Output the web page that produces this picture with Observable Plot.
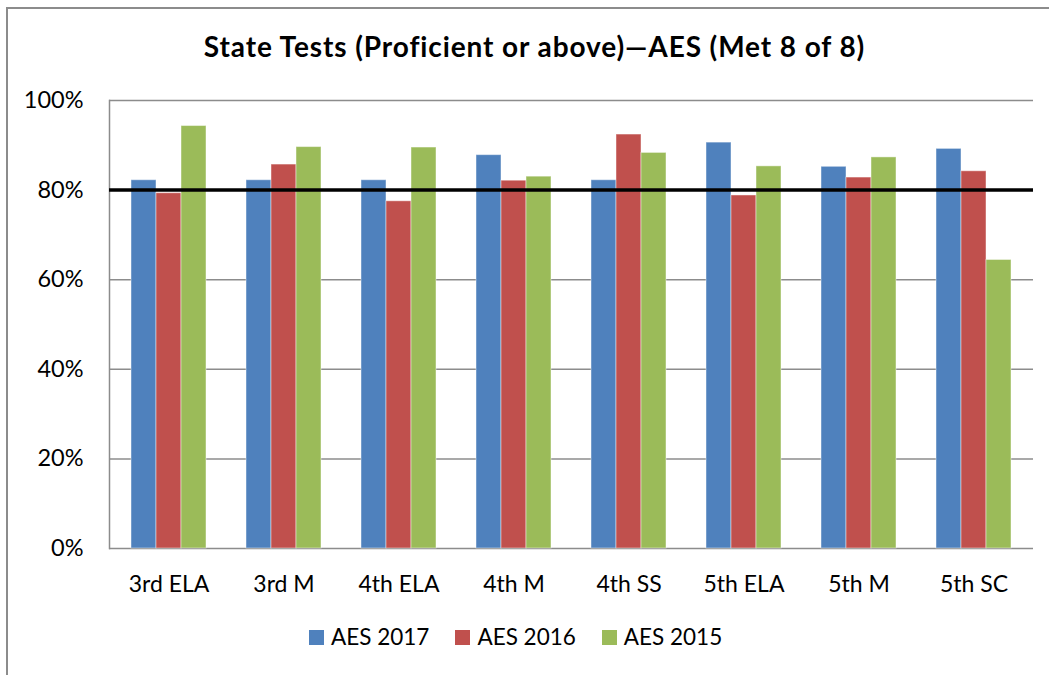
<!DOCTYPE html>
<html>
<head>
<meta charset="utf-8">
<script src="https://cdn.jsdelivr.net/npm/d3@7"></script>
<script src="https://cdn.jsdelivr.net/npm/@observablehq/plot@0.6"></script>
<style>
  html, body { margin: 0; padding: 0; background: #fff; width: 1049px; height: 675px; overflow: hidden; font-family: Lato, "Noto Sans", sans-serif; }
  #border { position: absolute; left: 6px; top: 7px; width: 1100px; height: 720px; border: 2px solid #8c8c8c; box-sizing: border-box; }
  #title { position: absolute; left: 0; width: 1069px; top: 29px; text-align: center; font-size: 28px; line-height: 34px; letter-spacing: 0.9px; font-weight: bold; color: #000; white-space: nowrap; }
  .layer { position: absolute; left: 0; top: 80px; }
  #legend { position: absolute; left: 309px; top: 624px; font-size: 22.5px; line-height: 26px; white-space: nowrap; color: #000; }
  .item { display: inline-block; margin-right: 26px; }
  .sw { display: inline-block; width: 15px; height: 15px; margin-right: 7px; vertical-align: baseline; }
</style>
</head>
<body>
<div id="border"></div>
<div id="title">State Tests (Proficient or above)—AES (Met 8 of 8)</div>
<div id="bg" class="layer"></div>
<div id="bars" class="layer"></div>
<div id="fg" class="layer"></div>
<div id="legend"></div>
<script>
const categories = ["3rd ELA", "3rd M", "4th ELA", "4th M", "4th SS", "5th ELA", "5th M", "5th SC"];
const series = ["AES 2017", "AES 2016", "AES 2015"];
const aes2017 = [82.2, 82.2, 82.2, 87.8, 82.2, 90.6, 85.2, 89.2];
const aes2016 = [79.3, 85.7, 77.5, 82.1, 92.4, 78.8, 82.8, 84.2];
const aes2015 = [94.3, 89.6, 89.5, 83.0, 88.3, 85.3, 87.3, 64.4];
const yTicks = [0, 20, 40, 60, 80, 100];
const target = [80];
const colors = ["#4F81BD", "#C0504D", "#9BBB59"];

const valuesBySeries = [aes2017, aes2016, aes2015];
const rows = [];
categories.forEach((cat, i) => {
  series.forEach((s, j) => rows.push({cat, series: s, value: valuesBySeries[j][i]}));
});

const common = {
  width: 1049,
  height: 540,
  marginLeft: 109,
  marginRight: 16,
  marginTop: 20,
  marginBottom: 72,
  style: {fontFamily: "Lato, 'Noto Sans', sans-serif", fontSize: "23px", color: "#000", background: "transparent"}
};

// background: gridlines, y axis labels, left axis line
const bg = Plot.plot({
  ...common,
  y: {domain: [0, 100]},
  marks: [
    Plot.ruleY(yTicks, {stroke: "#8c8c8c", strokeWidth: 1.5}),
    Plot.axisY(yTicks, {tickSize: 0, tickPadding: 26, tickFormat: d => d + "%", fontSize: 23.5, label: null}),
    Plot.frame({anchor: "left", stroke: "#8c8c8c", strokeWidth: 1.5})
  ]
});
document.getElementById("bg").appendChild(bg);

// bars, grouped by category
const bars = Plot.plot({
  ...common,
  fx: {domain: categories, paddingInner: 0.333, paddingOuter: 0.1667, label: null, tickSize: 0, tickPadding: 27, axis: "bottom"},
  x: {domain: series, padding: 0, axis: null},
  y: {domain: [0, 100], axis: null},
  color: {domain: series, range: colors},
  marks: [
    Plot.barY(rows, {fx: "cat", x: "series", y: "value", fill: "series", stroke: "#ffffff", strokeOpacity: 0.45, strokeWidth: 1})
  ]
});
document.getElementById("bars").appendChild(bars);

// foreground: target line
const fg = Plot.plot({
  ...common,
  y: {domain: [0, 100], axis: null},
  marks: [
    Plot.ruleY(target, {stroke: "#000", strokeWidth: 3.5})
  ]
});
document.getElementById("fg").appendChild(fg);

const legend = document.getElementById("legend");
series.forEach((s, j) => {
  const item = document.createElement("span");
  item.className = "item";
  const sw = document.createElement("span");
  sw.className = "sw";
  sw.style.background = colors[j];
  item.appendChild(sw);
  item.appendChild(document.createTextNode(s));
  legend.appendChild(item);
});
</script>
</body>
</html>
